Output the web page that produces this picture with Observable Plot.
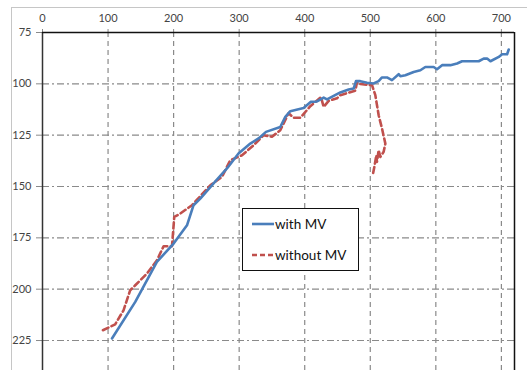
<!DOCTYPE html>
<html>
<head>
<meta charset="utf-8">
<script src="https://cdn.jsdelivr.net/npm/d3@7"></script>
<script src="https://cdn.jsdelivr.net/npm/@observablehq/plot@0.6"></script>
<style>
  html, body { margin: 0; padding: 0; background: #fff; }
  #wrap { position: relative; width: 527px; height: 370px; overflow: hidden; font-family: Lato, "Open Sans", sans-serif; }
  #border { position: absolute; left: 11px; top: 7px; right: -5px; bottom: -5px; border-top: 1px solid #c6c6c6; border-left: 1px solid #c6c6c6; pointer-events: none; }
  #legend { position: absolute; left: 242px; top: 208px; width: 115px; height: 61px; border: 1.5px solid #111; background: #fff; font-size: 13.5px; color: #111; }
  .item { position: absolute; left: 9px; display: flex; align-items: center; }
  .item span { margin-left: 1px; }
</style>
</head>
<body>
<div id="wrap">
  <div id="chart"></div>
  <div id="border"></div>
  <div id="legend"></div>
</div>
<script>
// Series names
const seriesNames = ["with MV", "without MV"];
const seriesColors = ["#4a7ebb", "#c0504d"];

// with MV
const withX = [106, 141.5, 174.5, 200, 220.4, 230.4, 240.7, 261, 281.4, 299, 317, 329.6, 340.9, 362.7, 370.4, 378, 398.3, 409, 418.7, 428.9, 434, 454.3, 467, 474.6, 478.2, 484.8, 495, 505.1, 512.7, 517.9, 525.5, 533.1, 543.3, 545.9, 553.5, 566.2, 576.4, 584, 596.7, 601.8, 609.5, 622.2, 632.4, 640, 665.4, 673, 678.2, 683.3, 696, 701.1, 708.7, 711.2];
const withY = [224, 206.2, 186.7, 177.8, 168.9, 159.1, 155.9, 148.5, 141.2, 133.9, 129.1, 126.6, 123.4, 121.0, 116.1, 113.3, 111.8, 108.8, 108.6, 106.7, 107.6, 104.2, 102.8, 102.3, 98.7, 98.7, 99.5, 99.8, 98.7, 96.9, 96.9, 98.2, 95.3, 96.3, 95.8, 94.2, 93.4, 91.8, 91.8, 92.9, 90.9, 90.9, 90.1, 89, 89, 87.7, 87.7, 89, 86.9, 85.6, 85.6, 83.3];

// without MV
const withoutX = [92.2, 110.9, 123.6, 133.8, 141.5, 159.3, 174.6, 184.7, 197.5, 201, 210.1, 228, 240.7, 256, 273.8, 286.4, 304.3, 322, 337.3, 350, 362.7, 375.4, 383, 393.3, 408.5, 424.8, 428.9, 436.5, 449.3, 454.3, 477.2, 479.8, 484.8, 502.7, 507.7, 512.8, 517.9, 523, 520.4, 515.3, 512.8, 510.2, 509.2, 506.2, 504.2, 501.6];
const withoutY = [220, 217.1, 210.3, 200.5, 198.1, 192.4, 185.9, 179.1, 179.1, 164.8, 163.2, 159.1, 154.7, 149.4, 145.3, 137.2, 134.8, 129.9, 125, 125.8, 122.6, 114.3, 116.5, 116.5, 110.9, 106.5, 111.2, 108.3, 107, 105.5, 103.3, 99.1, 100.1, 100.7, 105.5, 115.3, 121.8, 129.1, 133.1, 135.6, 132.3, 138, 134.8, 140.5, 143.7, 144.5];

// Axis ticks
const xTicks = [0, 100, 200, 300, 400, 500, 600, 700];
const yTicks = [75, 100, 125, 150, 175, 200, 225];

const withData = withX.map((x, i) => ({x, y: withY[i]}));
const withoutData = withoutX.map((x, i) => ({x, y: withoutY[i]}));

const xMax = 720, yMin = 75, yMax = 239.6;
const gridGray = "#8a8a8a";

const chart = Plot.plot({
  width: 527,
  height: 370,
  marginLeft: 42,
  marginRight: 13,
  marginTop: 32,
  marginBottom: 0,
  style: { fontFamily: "Lato, 'Open Sans', sans-serif", fontSize: "11px", background: "transparent", overflow: "visible" },
  x: { domain: [0, xMax] },
  y: { domain: [yMin, yMax], reverse: true },
  marks: [
    // vertical grid (dashed)
    Plot.ruleX(xTicks.filter(d => d > 0), { y1: yMin, y2: yMax, stroke: gridGray, strokeWidth: 1.2, strokeDasharray: "5,4" }),
    // horizontal grid (dash-dot)
    Plot.ruleY(yTicks.filter(d => d > yMin), { x1: 0, x2: xMax, stroke: gridGray, strokeWidth: 1.2, strokeDasharray: "7,3,2,3" }),
    // axes
    Plot.axisX(xTicks, { anchor: "top", tickSize: 4, tickPadding: 7, stroke: gridGray, fill: "#444", fontSize: 11, label: null }),
    Plot.axisY(yTicks, { anchor: "left", tickSize: 6, tickPadding: 5, stroke: gridGray, fill: "#444", fontSize: 11, label: null }),
    // frame lines
    Plot.ruleX([0], { y1: yMin, y2: yMax, stroke: "#333", strokeWidth: 1.5 }),
    Plot.ruleX([xMax], { y1: yMin, y2: yMax, stroke: "#111", strokeWidth: 1.5 }),
    Plot.ruleY([yMin], { x1: 0, x2: xMax, stroke: "#111", strokeWidth: 1.5 }),
    // series
    Plot.line(withoutData, { x: "x", y: "y", stroke: seriesColors[1], strokeWidth: 2.6, strokeDasharray: "6,3.5", curve: "linear" }),
    Plot.line(withData, { x: "x", y: "y", stroke: seriesColors[0], strokeWidth: 2.6, curve: "linear" })
  ]
});
document.getElementById("chart").appendChild(chart);

// legend
const legend = document.getElementById("legend");
seriesNames.forEach((name, i) => {
  const item = document.createElement("div");
  item.className = "item";
  item.style.top = (i === 0 ? 6 : 37) + "px";
  const dash = i === 1 ? 'stroke-dasharray="5,3"' : "";
  item.innerHTML = `<svg width="22" height="18"><line x1="0" x2="22" y1="9" y2="9" stroke="${seriesColors[i]}" stroke-width="2.6" ${dash}/></svg><span>${name}</span>`;
  legend.appendChild(item);
});
</script>
</body>
</html>
